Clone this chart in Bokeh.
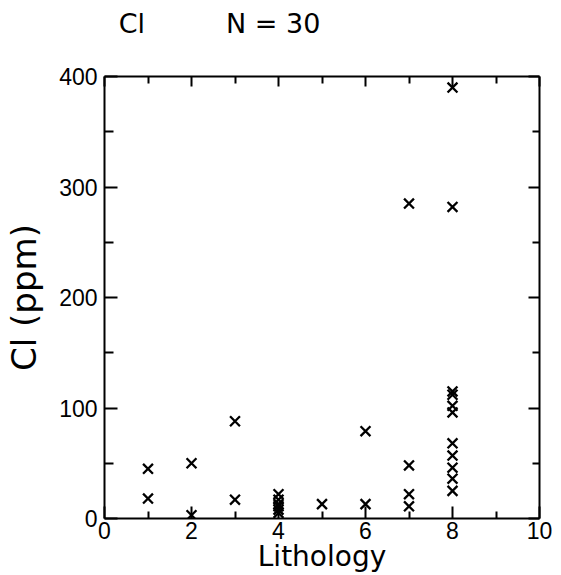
from bokeh.plotting import figure
from bokeh.models import LinearAxis, FixedTicker, Range1d
from bokeh.embed import file_html
from bokeh.resources import INLINE

# Lithology class and chloride concentration (ppm) for each sample
lithology = [1, 1, 2, 2, 3, 3,
             4, 4, 4, 4, 4, 4,
             5, 6, 6,
             7, 7, 7, 7,
             8, 8, 8, 8, 8, 8, 8, 8, 8, 8, 8]
cl_ppm = [45, 18, 50, 3, 88, 17,
          22, 17, 13, 11, 8, 5,
          13, 79, 13,
          285, 48, 22, 11,
          390, 282, 115, 112, 102, 96, 68, 57, 46, 36, 25]

x_ticks = [0, 2, 4, 6, 8, 10]
x_minor = [1, 3, 5, 7, 9]
y_ticks = [0, 100, 200, 300, 400]
y_minor = [50, 150, 250, 350]

# Heading pieces: element name and sample count
heading_text = ["Cl", "N = 30"]
heading_at = [0.63, 3.88]

NUM_FONT = "Liberation Sans"
TXT_FONT = "DejaVu Sans"

p = figure(width=561, height=575, output_backend="svg", toolbar_location=None,
           x_range=Range1d(0, 10), y_range=Range1d(0, 400),
           x_axis_type=None, y_axis_type=None,
           min_border_left=104, min_border_right=22,
           min_border_top=76, min_border_bottom=57)
p.grid.visible = False
p.outline_line_color = None
p.background_fill_color = "white"
p.border_fill_color = "white"


def style(ax, ticks, minor, major_len, minor_len, labels=True):
    ax.ticker = FixedTicker(ticks=ticks, minor_ticks=minor)
    ax.axis_line_width = 2
    ax.axis_line_color = "black"
    ax.major_tick_in = major_len
    ax.major_tick_out = 0
    ax.minor_tick_in = minor_len
    ax.minor_tick_out = 0
    ax.major_tick_line_width = 2
    ax.minor_tick_line_width = 2
    ax.major_tick_line_color = "black"
    ax.minor_tick_line_color = "black"
    if labels:
        ax.major_label_text_font = NUM_FONT
        ax.major_label_text_font_size = "23px"
        ax.major_label_text_color = "black"
    else:
        ax.major_label_text_font_size = "0px"
        ax.major_label_text_color = None
        ax.major_label_standoff = 0


left = LinearAxis()
style(left, y_ticks, y_minor, 13, 9)
left.major_label_standoff = 7
left.axis_label = "Cl (ppm)"
left.axis_label_text_font = TXT_FONT
left.axis_label_text_font_size = "34px"
left.axis_label_text_font_style = "normal"
left.axis_label_text_color = "black"
left.axis_label_standoff = 12
p.add_layout(left, "left")

bottom = LinearAxis()
style(bottom, x_ticks, x_minor, 12, 7)
bottom.major_label_standoff = 3
bottom.axis_label = "Lithology"
bottom.axis_label_text_font = TXT_FONT
bottom.axis_label_text_font_size = "28px"
bottom.axis_label_text_font_style = "normal"
bottom.axis_label_text_color = "black"
bottom.axis_label_standoff = -2
p.add_layout(bottom, "below")

right = LinearAxis()
style(right, y_ticks, y_minor, 11, 7, labels=False)
p.add_layout(right, "right")

top = LinearAxis()
style(top, x_ticks, x_minor, 10, 7, labels=False)
p.add_layout(top, "above")

# Heading written along the top edge as tick labels of a bare axis
head = LinearAxis()
head.ticker = FixedTicker(ticks=heading_at, minor_ticks=[])
head.major_label_overrides = {v: t for v, t in zip(heading_at, heading_text)}
head.axis_line_color = None
head.major_tick_line_color = None
head.minor_tick_line_color = None
head.major_tick_in = 0
head.major_tick_out = 0
head.major_label_standoff = 38
head.major_label_text_font = TXT_FONT
head.major_label_text_font_size = "27px"
head.major_label_text_color = "black"
p.add_layout(head, "above")

p.scatter(lithology, cl_ppm, marker="x", size=14, line_width=2.3,
          line_color="black")

open("out.html", "w").write(file_html(p, INLINE))
